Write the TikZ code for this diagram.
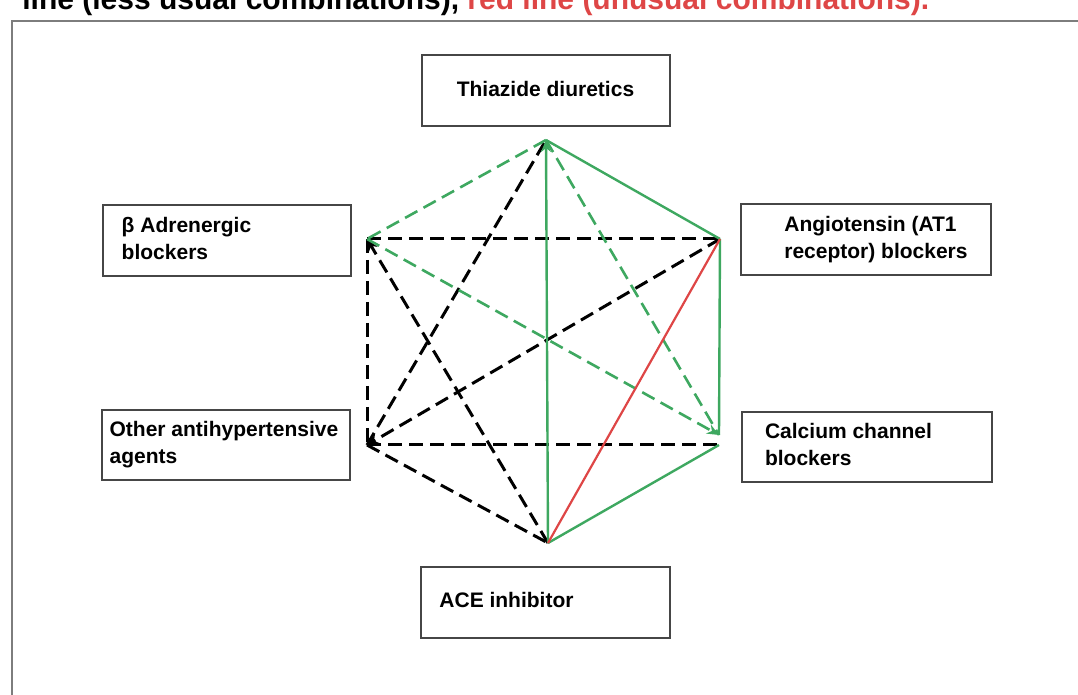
\documentclass[tikz,border=0pt]{standalone}
\usepackage{fontspec}
\setmainfont{Liberation Sans}
\usepackage{xcolor}
\usepackage{tikz}
\usetikzlibrary{arrows.meta}

\definecolor{combgreen}{RGB}{62,168,96}
\definecolor{combred}{RGB}{222,70,70}
\definecolor{boxgray}{RGB}{70,70,70}
\definecolor{framegray}{RGB}{125,125,125}

\tikzset{
    drug/.style={rectangle, draw=boxgray, line width=1pt, inner xsep=0pt,
        minimum width=124pt, minimum height=35.5pt,
        font=\bfseries\fontsize{10.5}{13.5}\selectfont},
    preferred/.style={combgreen, line width=1.2pt},
    useful/.style={combgreen, line width=1.3pt, dash pattern=on 7pt off 3.5pt},
    lessusual/.style={black, line width=1.5pt, dash pattern=on 7pt off 3.5pt},
    unusual/.style={combred, line width=1.1pt}
}

\begin{document}
\begin{tikzpicture}[x=0.5pt, y=-0.5pt, >={Stealth[length=6pt, width=5pt]}]
    \clip (0,0) rectangle (1078,695);

    % caption line, cut by the top edge
    \node (caption) at (22,10) [anchor=base west, inner sep=0pt,
        font=\bfseries\fontsize{15}{18}\selectfont]
        {line (less usual combinations), \textcolor{combred}{red line (unusual combinations).}};

    \draw[framegray, line width=1pt] (12,695) -- (12,21) -- (1078,21);

    \node (thiazide) at (545.5, 91) [drug] {
        \begin{tabular}{c}
            Thiazide diuretics
        \end{tabular}
    };

    \node (beta) at (227, 241) [drug] {
        \begin{tabular}{@{\hspace{8.5pt}}l@{\hspace{49pt}}}
            β Adrenergic
            \\
            blockers
        \end{tabular}
    };

    \node (angio) at (866, 239.5) [drug, minimum width=125pt] {
        \begin{tabular}{@{\hspace{21pt}}l@{\hspace{11pt}}}
            Angiotensin (AT1
            \\
            receptor) blockers
        \end{tabular}
    };

    \node (other) at (226, 445) [drug, minimum height=35pt] {
        \begin{tabular}{@{\hspace{4pt}}l@{\hspace{6pt}}}
            Other antihypertensive
            \\
            agents
        \end{tabular}
    };

    \node (calcium) at (867, 447) [drug, minimum width=125pt, minimum height=35pt] {
        \begin{tabular}{@{\hspace{11.5pt}}l@{\hspace{30pt}}}
            Calcium channel
            \\
            blockers
        \end{tabular}
    };

    \node (acei) at (545.5, 602.5) [drug, minimum width=123.5pt] {
        \begin{tabular}{@{\hspace{9pt}}l@{\hspace{48pt}}}
            ACE inhibitor
        \end{tabular}
    };

    % corners of the hexagon
    \coordinate (thz) at (546, 140);
    \coordinate (bet) at (367, 239);
    \coordinate (ang) at (720, 239);
    \coordinate (oth) at (367, 445);
    \coordinate (cal) at (719, 445);
    \coordinate (ace) at (548, 543);

    % black dashed
    \draw[lessusual] (bet) -- (ang);
    \draw[lessusual] (bet) -- (oth);
    \draw[lessusual] (oth) -- (cal);
    \draw[lessusual] (oth) -- (thz);
    \draw[lessusual] (oth) -- (ace);
    \draw[lessusual, ->] (ace) -- (bet);
    \draw[lessusual, ->] (ang) -- (oth);

    % green dashed
    \draw[useful] (thz) -- (bet);
    \draw[useful] (thz) -- ([yshift=5pt]cal);
    \draw[useful, ->] (bet) -- ([yshift=5pt]cal);

    % green solid
    \draw[preferred, ->] (ace) -- (thz);
    \draw[preferred] (thz) -- (ang);
    \draw[preferred] (ang) -- ([yshift=5pt]cal);
    \draw[preferred] (cal) -- (ace);

    % red
    \draw[unusual] (ang) -- (ace);
\end{tikzpicture}
\end{document}
